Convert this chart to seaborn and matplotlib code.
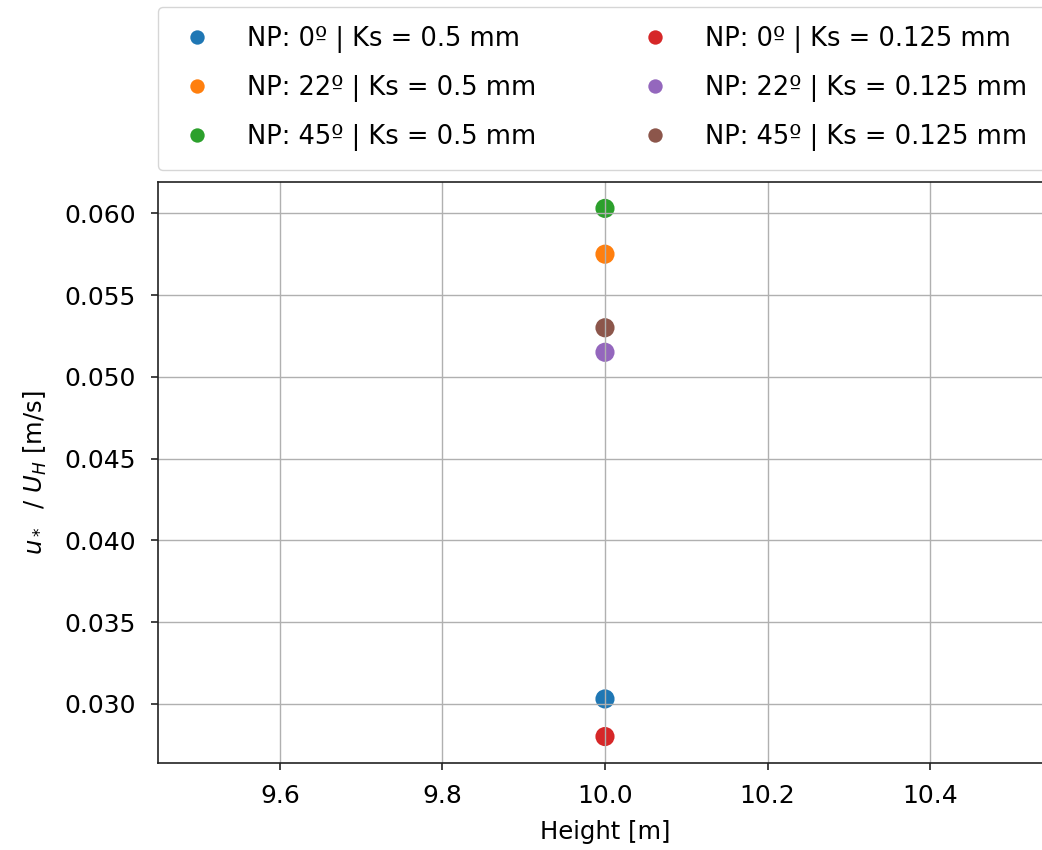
import matplotlib
matplotlib.use("Agg")
import matplotlib.pyplot as plt
import seaborn as sns
import pandas as pd

# Friction velocity ratio at the reference height for each configuration
labels = [
    "NP: 0º | Ks = 0.5 mm",
    "NP: 22º | Ks = 0.5 mm",
    "NP: 45º | Ks = 0.5 mm",
    "NP: 0º | Ks = 0.125 mm",
    "NP: 22º | Ks = 0.125 mm",
    "NP: 45º | Ks = 0.125 mm",
]
height = [10.0, 10.0, 10.0, 10.0, 10.0, 10.0]
ustar_ratio = [0.0303, 0.0575, 0.0603, 0.0280, 0.0515, 0.0530]
colors = ["#1f77b4", "#ff7f0e", "#2ca02c", "#d62728", "#9467bd", "#8c564b"]

df = pd.DataFrame({"case": labels, "Height": height, "ratio": ustar_ratio})

plt.rcParams["font.family"] = ["DejaVu Sans"]

fig = plt.figure(figsize=(10.42, 8.5), dpi=100)
ax = fig.add_axes([0.1516, 0.1024, 0.8580, 0.6835])

sns.scatterplot(data=df, x="Height", y="ratio", hue="case", hue_order=labels,
                palette=colors, s=190, linewidth=0, ax=ax, legend=True)

ax.grid(True, color="#b0b0b0", linewidth=1.0)
for sp in ax.spines.values():
    sp.set_color("#222222")
    sp.set_linewidth(1.2)

ax.tick_params(labelsize=18, length=5, width=1.2, color="#222222")
ax.tick_params(axis="y", pad=11)
ax.tick_params(axis="x", pad=10)
ax.set_xlabel("Height [m]", fontsize=17.5, labelpad=9)
ax.set_ylabel(r"$u_*$  / $U_H$ [m/s]", fontsize=17.5, labelpad=11)
ax.set_xticks([9.6, 9.8, 10.0, 10.2, 10.4])
ax.set_yticks([0.030, 0.035, 0.040, 0.045, 0.050, 0.055, 0.060])

handles, lbls = ax.get_legend_handles_labels()
ax.legend(handles, lbls, loc="lower left", bbox_to_anchor=(0, 1.02),
          ncol=2, fontsize=18.5, markerscale=0.75,
          borderaxespad=0, borderpad=0.75, handlelength=1.5,
          handletextpad=1.2, labelspacing=0.86, columnspacing=3.87)

fig.savefig("out.png", dpi=100)
